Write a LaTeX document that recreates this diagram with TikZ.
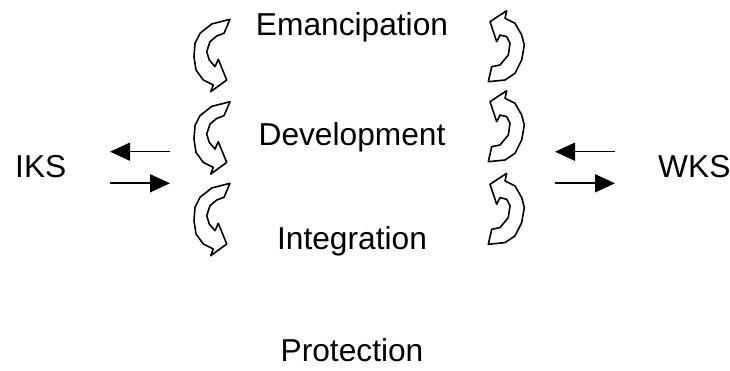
\documentclass[tikz,border=0pt]{standalone}
\usepackage{fontspec}
\setmainfont{Liberation Sans}
\usetikzlibrary{arrows.meta}

\tikzset{
  label/.style={font=\fontsize{31.7}{38}\selectfont,inner sep=0pt,anchor=base},
  flow/.style={line width=1.6pt,-{Triangle[length=20pt,width=18pt]}},
  swirl/.style={line width=1.6pt,line join=round,fill=white}
}

\begin{document}
\begin{tikzpicture}[x=1pt,y=-1pt]
  \useasboundingbox (0,0) rectangle (730,371);

  % stages
  \node[label] (eman) at (352,36) {Emancipation};
  \node[label] (devel) at (352,146) {Development};
  \node[label] (integ) at (352,250) {Integration};
  \node[label] (prot) at (352,361) {Protection};

  % knowledge systems
  \node[label,anchor=base west] (iks) at (15,177.7) {IKS};
  \node[label,anchor=base west] (wks) at (658,177.7) {WKS};

  % curved arrows, left column
  \foreach \d in {0,82.4,164}{
    \draw[swirl,shift={(0,\d)}] (230,19.3) -- (224,33.3) -- (216.7,36)
      -- (210,41.7) -- (206.7,51.7) -- (209.3,60) -- (215,66.7)
      -- (218.3,59.3) -- (226.7,80) -- (210.7,91.7) -- (213.3,85)
      -- (203.3,80) -- (196,70) -- (194,56.7) -- (195,43.3)
      -- (200,33.3) -- (211.7,24) -- cycle;
  }

  % curved arrows, right column
  \foreach \d in {0,80,162.6}{
    \draw[swirl,shift={(0,\d)}] (506.7,10.7) -- (505,18.3) -- (515,23.3)
      -- (521.7,35) -- (524.3,45) -- (521.7,60) -- (515,73.3)
      -- (505,80) -- (488.3,81.7) -- (491.7,66.7) -- (500,65)
      -- (508.3,55) -- (510,43.3) -- (506.7,36.7) -- (500,35)
      -- (496.7,41.7) -- (490,21.7) -- cycle;
  }

  % exchange arrows
  \coordinate (ltopa) at (170,151.7);
  \coordinate (ltopb) at (110,151.7);
  \coordinate (lbota) at (110,183.3);
  \coordinate (lbotb) at (170,183.3);
  \coordinate (rtopa) at (615,151.7);
  \coordinate (rtopb) at (555,151.7);
  \coordinate (rbota) at (555,183.3);
  \coordinate (rbotb) at (615,183.3);
  \draw[flow] (ltopa) -- (ltopb);
  \draw[flow] (lbota) -- (lbotb);
  \draw[flow] (rtopa) -- (rtopb);
  \draw[flow] (rbota) -- (rbotb);
\end{tikzpicture}
\end{document}
